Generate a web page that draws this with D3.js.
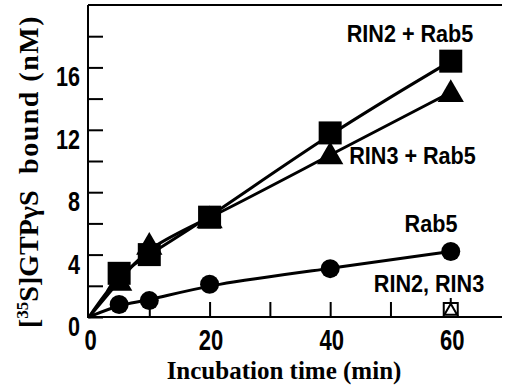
<!DOCTYPE html>
<html><head><meta charset="utf-8">
<script src="https://cdn.jsdelivr.net/npm/d3@7"></script>
<style>body{margin:0;background:#fff}svg{display:block}</style>
</head><body>
<svg id="c" width="507" height="385"></svg>
<script>
const times = [0, 5, 10, 20, 40, 60];
const rin2Rab5 = [0, 2.8, 4.0, 6.4, 11.8, 16.4];
const rin3Rab5 = [0, 2.3, 4.6, 6.3, 10.4, 14.4];
const rab5 = [0, 0.8, 1.05, 2.1, 3.1, 4.2];
const controlTime = [60];
const controlValue = [0];
const xTicks = [0, 20, 40, 60];
const xMinor = [10, 30, 50];
const yTicks = [0, 4, 8, 12, 16];
const yMinor = [2, 6, 10, 14, 18];
const seriesLabels = ["RIN2 + Rab5", "RIN3 + Rab5", "Rab5", "RIN2, RIN3"];

const svg = d3.select("#c");
const x = d3.scaleLinear().domain([0, 68.5]).range([89, 502]);
const y = d3.scaleLinear().domain([0, 20]).range([317, 5]);
const sans = "'Liberation Sans',Arial,sans-serif";
const serif = "'Liberation Serif','Times New Roman',serif";

// frame
svg.append("line").attr("x1", x(0)-1).attr("x2", 502).attr("y1", y(20)).attr("y2", y(20)).attr("stroke","#000").attr("stroke-width",2);

const yAx = svg.append("g").attr("transform",`translate(${x(0)-1},0)`)
  .call(d3.axisRight(y).tickValues(yTicks.concat(yMinor)).tickSize(15).tickFormat(""));
yAx.select(".domain").attr("d", `M0,${y(0)}V${y(20)}`);
yAx.selectAll("path,line").attr("stroke","#000").attr("stroke-width",2);

const xAx = svg.append("g").attr("transform",`translate(0,${y(0)})`)
  .call(d3.axisTop(x).tickValues(xTicks.slice(1).concat(xMinor)).tickSize(15).tickFormat(""));
xAx.select(".domain").attr("d", `M${x(0)-2},0H502`);
xAx.selectAll("path,line").attr("stroke","#000").attr("stroke-width",2);

// tick labels (condensed bold)
svg.selectAll(".xl").data(xTicks).enter().append("g")
  .attr("transform", d => `translate(${x(d)+1.5},350) scale(0.76,1)`)
  .append("text").attr("text-anchor","middle").attr("font-family", sans).attr("font-weight","bold")
  .attr("font-size",29).text(d => d);
svg.selectAll(".yl").data(yTicks).enter().append("g")
  .attr("transform", d => `translate(80,${y(d)+19}) scale(0.8,1)`)
  .append("text").attr("text-anchor","end").attr("font-family", sans).attr("font-weight","bold")
  .attr("font-size",27).text(d => d);

// axis titles
svg.append("text").attr("x", 284).attr("y", 379).attr("text-anchor","middle")
  .attr("font-family", serif).attr("font-weight","bold").attr("font-size",25).text("Incubation time (min)");
const yl1 = svg.append("text").attr("transform","translate(38,328) rotate(-90)").attr("text-anchor","start")
  .attr("font-family", serif).attr("font-weight","bold").attr("font-size",28);
yl1.append("tspan").text("[");
yl1.append("tspan").attr("dy",-10).attr("font-size",17).text("35");
yl1.append("tspan").attr("dy",10).text("S]GTPγS");
svg.append("text").attr("transform","translate(38,15) rotate(-90)").attr("text-anchor","end")
  .attr("font-family", serif).attr("font-weight","bold").attr("font-size",28).attr("letter-spacing",1.5).text("bound (nM)");

// curves
const line = vals => d3.line().x((d,i)=>x(times[i])).y(d=>y(d)).curve(d3.curveBasis)(vals);
[rin2Rab5, rin3Rab5, rab5].forEach(v => {
  svg.append("path").attr("d", line(v)).attr("fill","none").attr("stroke","#000").attr("stroke-width",3);
});

const pts = v => v.map((d,i)=>({t:times[i], v:d})).filter(d => d.t > 0);
// circles
svg.selectAll(".ci").data(pts(rab5)).enter().append("circle")
  .attr("cx", d=>x(d.t)).attr("cy", d=>y(d.v)).attr("r", 9.5).attr("fill","#000");
// triangles
const tri = d3.symbol().type(d3.symbolTriangle).size(300);
svg.selectAll(".tr").data(pts(rin3Rab5)).enter().append("path")
  .attr("transform", d=>`translate(${x(d.t)},${y(d.v)+2})`).attr("d", tri).attr("fill","#000");
// squares
svg.selectAll(".sq").data(pts(rin2Rab5)).enter().append("rect")
  .attr("x", d=>x(d.t)-11.5).attr("y", d=>y(d.v)-11.5).attr("width",23).attr("height",23).attr("fill","#000");
// open controls
svg.selectAll(".os").data(controlTime).enter().append("rect")
  .attr("x", (d)=>x(d)-7).attr("y",(d,i)=>y(controlValue[i])-14).attr("width",14).attr("height",14)
  .attr("fill","#fff").attr("stroke","#000").attr("stroke-width",2);
svg.selectAll(".ot").data(controlTime).enter().append("path")
  .attr("transform",(d,i)=>`translate(${x(d)},${y(controlValue[i])-6})`)
  .attr("d", d3.symbol().type(d3.symbolTriangle).size(70)).attr("fill","#fff").attr("stroke","#000").attr("stroke-width",2);
svg.selectAll(".otk").data(controlTime).enter().append("line")
  .attr("x1", d=>x(d)).attr("x2", d=>x(d)).attr("y1", y(0)-19).attr("y2", y(0)-14).attr("stroke","#000").attr("stroke-width",2);

// series labels
const labPos = [[410, 41.5], [412.5, 163.5], [431, 231.5], [429, 291.5]];
svg.selectAll(".lb").data(seriesLabels).enter().append("g")
  .attr("transform", (d,i)=>`translate(${labPos[i][0]},${labPos[i][1]}) scale(0.9,1)`)
  .append("text").attr("text-anchor","middle").attr("font-family", sans).attr("font-weight","bold")
  .attr("font-size",24).text(d=>d);
</script>
</body></html>
